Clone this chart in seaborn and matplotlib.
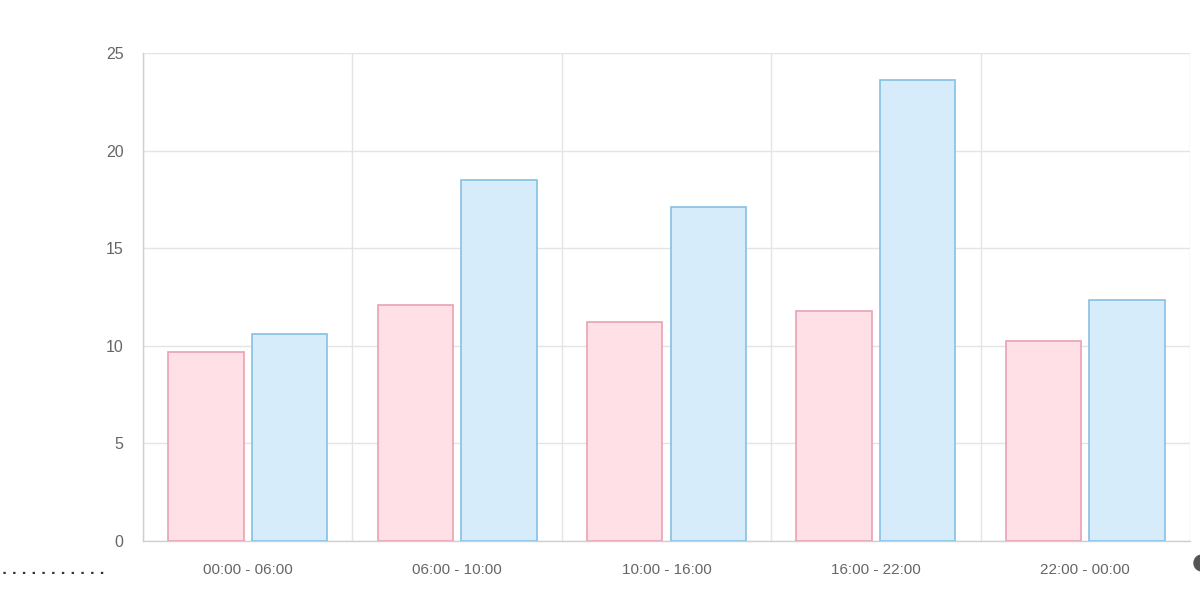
import matplotlib
matplotlib.use("Agg")
import matplotlib.pyplot as plt
import matplotlib.patches as mpatches
from matplotlib.transforms import IdentityTransform
import seaborn as sns
import pandas as pd
import numpy as np

slots = ["00:00 - 06:00", "06:00 - 10:00", "10:00 - 16:00", "16:00 - 22:00", "22:00 - 00:00"]
series_a = [9.7, 12.1, 11.2, 11.8, 10.25]
series_b = [10.6, 18.5, 17.1, 23.6, 12.35]
y_ticks = [0, 5, 10, 15, 20, 25]

df = pd.DataFrame({
    "slot": slots * 2,
    "value": series_a + series_b,
    "series": ["A"] * len(slots) + ["B"] * len(slots),
})

sns.set_theme(style="white")
plt.rcParams["font.family"] = ["Liberation Sans", "DejaVu Sans"]

fig = plt.figure(figsize=(12, 5.92), dpi=100)
ax = fig.add_axes([143 / 1200, 1 - 541 / 592, (1190 - 143) / 1200, (541 - 53) / 592])

fills = {"A": "#FFE0E6", "B": "#D7ECFB"}
edges = ["#E9A2B4", "#86C0E4"]
sns.barplot(data=df, x="slot", y="value", hue="series", palette=fills, saturation=1,
            width=0.8, gap=0.1, legend=False, ax=ax, linewidth=1.2, zorder=3)
for cont, ec in zip(ax.containers, edges):
    for p in cont:
        p.set_edgecolor(ec)
        p.set_linewidth(1.2)

ax.set_xlim(-0.5, len(slots) - 0.5)
ax.set_ylim(0, 25)
ax.set_yticks(y_ticks)
ax.set_xlabel("")
ax.set_ylabel("")

grid_c = "#E4E4E4"
ax.set_xticks(np.arange(-0.5, len(slots), 1.0), minor=True)
ax.grid(True, which="minor", axis="x", color=grid_c, linewidth=1, zorder=0)
ax.grid(True, which="major", axis="y", color=grid_c, linewidth=1, zorder=0)
ax.grid(False, which="major", axis="x")
ax.set_axisbelow(True)

ax.tick_params(axis="x", which="major", length=0, pad=16, labelsize=11, labelcolor="#666666")
ax.tick_params(axis="x", which="minor", length=8, color=grid_c, width=1)
ax.tick_params(axis="y", which="major", length=8, color=grid_c, width=1, pad=6,
               labelsize=11.5, labelcolor="#666666")

for s in ["top", "right"]:
    ax.spines[s].set_visible(False)
for s in ["left", "bottom"]:
    ax.spines[s].set_color("#D0D0D0")
    ax.spines[s].set_linewidth(1)

fig.text(2 / 1200, 1 - 570 / 592, ". . . . . . . . . . .", fontsize=9.5, color="#333333",
         fontweight="bold", va="center", ha="left", family=["DejaVu Sans"])
fig.add_artist(mpatches.Circle((1202, 592 - 563), 8, color="#555555", transform=IdentityTransform()))

fig.savefig("out.png", dpi=100)
